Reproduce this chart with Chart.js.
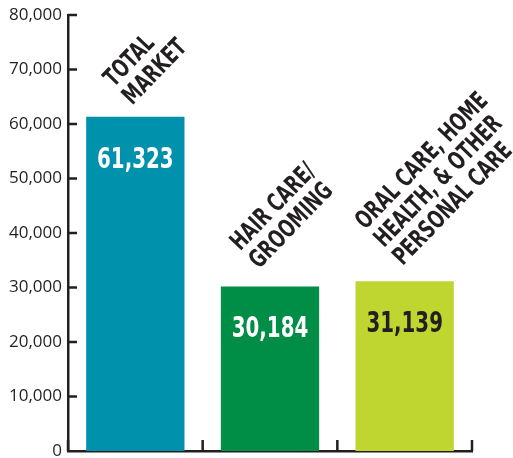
<!DOCTYPE html>
<html>
<head>
<meta charset="utf-8">
<script src="https://cdn.jsdelivr.net/npm/chart.js@4.4.1/dist/chart.umd.min.js"></script>
<style>
  html, body { margin: 0; padding: 0; background: #fff; }
  #wrap { width: 513px; height: 458px; position: relative; }
</style>
</head>
<body>
<div id="wrap"><canvas id="chart"></canvas></div>
<script>
// Category names, one entry per printed line
const categories = [
  ['TOTAL', 'MARKET'],
  ['HAIR CARE/', 'GROOMING'],
  ['ORAL CARE, HOME', 'HEALTH, & OTHER', 'PERSONAL CARE']
];
const marketValues = [61323, 30184, 31139];
const barColors = ['#0091ad', '#008d46', '#bed62f'];
const valueColors = ['#ffffff', '#ffffff', '#231f20'];
const yMax = 80000;
const yStep = 10000;

const INK = '#231f20';
const CONDENSED = "'DejaVu Sans Condensed', 'DejaVu Sans', sans-serif";
const SQUEEZE = 0.76; // narrow the bold face horizontally

// short tick marks pointing into the plot on both axes
const axisTicks = {
  id: 'axisTicks',
  afterDraw(chart) {
    const { ctx, chartArea: a, scales: { x, y } } = chart;
    ctx.save();
    ctx.strokeStyle = INK;
    ctx.lineWidth = 2.5;
    ctx.beginPath();
    y.ticks.forEach(t => {
      if (t.value === 0) return;
      const py = y.getPixelForValue(t.value);
      ctx.moveTo(a.left, py);
      ctx.lineTo(a.left + 9, py);
    });
    const step = x.getPixelForValue(1) - x.getPixelForValue(0);
    for (let i = 0; i <= categories.length; i++) {
      const px = x.getPixelForValue(0) - step / 2 + i * step;
      ctx.moveTo(px, a.bottom);
      ctx.lineTo(px, a.bottom - 11);
    }
    ctx.stroke();
    ctx.restore();
  }
};

// value inside each bar, slanted category name above it
const barLabels = {
  id: 'barLabels',
  afterDatasetsDraw(chart, args, opts) {
    const { ctx } = chart;
    const meta = chart.getDatasetMeta(0);
    meta.data.forEach((bar, i) => {
      ctx.save();
      ctx.translate(bar.x, bar.y + 51);
      ctx.scale(SQUEEZE, 1);
      ctx.font = `bold 29px ${CONDENSED}`;
      ctx.fillStyle = valueColors[i];
      ctx.textAlign = 'center';
      ctx.textBaseline = 'alphabetic';
      ctx.fillText(marketValues[i].toLocaleString('en-US'), 0, 0);
      ctx.restore();

      const lines = categories[i];
      const [dx, dy] = opts.shift[i];
      ctx.save();
      ctx.translate(bar.x + dx, bar.y + dy);
      ctx.rotate(-46 * Math.PI / 180);
      ctx.scale(SQUEEZE, 1);
      ctx.font = `bold 25px ${CONDENSED}`;
      ctx.fillStyle = INK;
      ctx.textAlign = 'left';
      ctx.textBaseline = 'alphabetic';
      lines.forEach((line, j) => ctx.fillText(line, 0, -(lines.length - 1 - j) * 26));
      ctx.restore();
    });
  }
};

new Chart(document.getElementById('chart'), {
  type: 'bar',
  data: {
    labels: categories.map(l => l.join(' ')),
    datasets: [{
      data: marketValues,
      backgroundColor: barColors,
      barPercentage: 0.73,
      categoryPercentage: 1
    }]
  },
  options: {
    responsive: true,
    maintainAspectRatio: false,
    animation: false,
    layout: { padding: { top: 15, right: 41, left: 0, bottom: 0 } },
    plugins: {
      legend: { display: false },
      tooltip: { enabled: false },
      barLabels: { shift: [[-3, -11], [-11, -17], [-2, -15]] }
    },
    scales: {
      x: {
        ticks: { display: false },
        grid: { display: false, drawTicks: false },
        border: { color: INK, width: 2.5 },
        afterFit(s) { s.height = 7; }
      },
      y: {
        min: 0,
        max: yMax,
        ticks: {
          stepSize: yStep,
          color: INK,
          padding: 6,
          font: { family: "'Open Sans', sans-serif", size: 17 },
          callback: v => v.toLocaleString('en-US')
        },
        grid: { display: false, drawTicks: false },
        border: { color: INK, width: 2.5 },
        afterFit(s) {
          s.width = 68;
          s.paddingTop = 0;
          s.paddingBottom = 0;
        }
      }
    }
  },
  plugins: [axisTicks, barLabels]
});
</script>
</body>
</html>
